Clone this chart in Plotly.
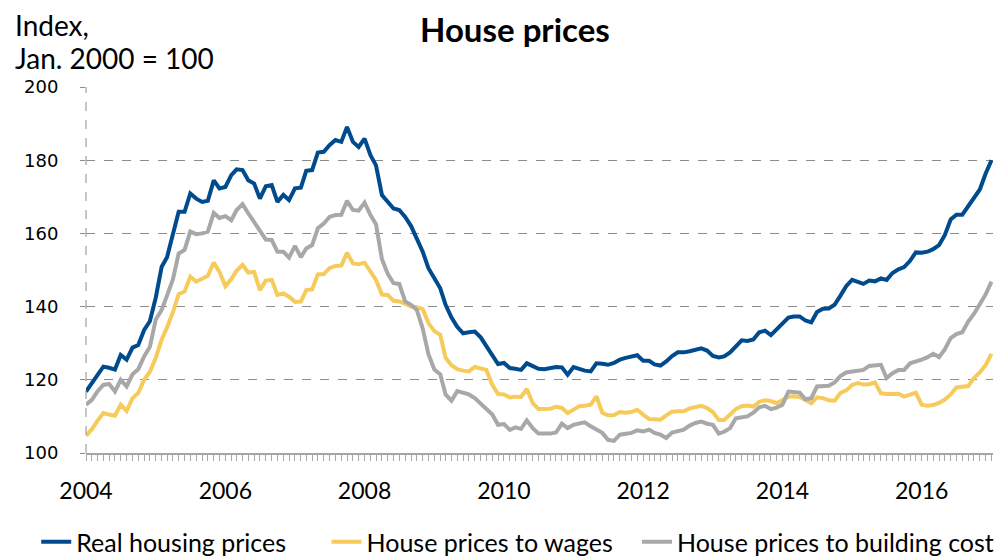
import pandas as pd
import plotly.graph_objects as go

# Monthly index values, Jan 2004 - Jan 2017 (Jan. 2000 = 100)
months = pd.date_range("2004-01-01", periods=157, freq="MS")

real_prices = [
    116.8, 119.0, 121.0, 123.6, 123.3, 122.8, 126.8, 125.5, 128.8, 129.5,
    133.6, 136.0, 142.5, 150.9, 153.5, 159.5, 165.9, 165.9, 170.9, 169.5,
    168.6, 168.9, 174.5, 172.3, 172.7, 175.9, 177.5, 177.3, 174.5, 173.6,
    169.5, 172.9, 173.2, 168.6, 170.5, 169.1, 172.3, 172.5, 177.1, 177.3,
    182.1, 182.3, 184.1, 185.5, 185.0, 189.1, 185.0, 183.6, 185.9, 181.4,
    178.6, 170.5, 168.6, 166.8, 166.4, 164.5, 162.0, 158.5, 155.0, 150.5,
    148.0, 145.0, 140.5, 137.0, 134.5, 132.7, 133.0, 133.2, 131.6, 129.3,
    126.5, 124.3, 124.6, 123.2, 123.0, 122.7, 124.5, 123.8, 123.0, 122.9,
    123.3, 123.5, 123.4, 121.4, 123.5, 122.9, 122.5, 122.3, 124.5, 124.4,
    124.1, 124.6, 125.5, 126.0, 126.3, 126.7, 125.2, 125.2, 124.2, 123.9,
    125.0, 126.5, 127.5, 127.5, 127.8, 128.3, 128.6, 128.0, 126.5, 126.1,
    126.4, 127.5, 129.3, 130.8, 130.6, 131.0, 133.0, 133.4, 132.2, 133.7,
    135.2, 137.0, 137.3, 137.3, 136.2, 135.7, 138.5, 139.4, 139.5, 140.5,
    143.0, 145.6, 147.3, 146.6, 146.2, 147.1, 146.9, 147.7, 147.3, 149.2,
    150.2, 150.8, 152.5, 154.8, 154.7, 155.0, 155.7, 156.8, 159.5, 163.8,
    165.1, 165.1, 167.5, 170.0, 172.0, 176.3, 180.0,
]

to_wages = [
    104.7, 106.5, 108.8, 110.9, 110.5, 110.2, 113.2, 111.5, 115.0, 116.4,
    120.0, 122.2, 126.0, 131.0, 134.3, 138.5, 143.4, 144.1, 148.2, 146.8,
    147.6, 148.4, 152.0, 149.5, 145.6, 147.5, 149.8, 151.4, 149.3, 149.5,
    144.5, 147.1, 147.3, 143.2, 143.6, 142.7, 141.3, 141.4, 144.5, 144.7,
    148.8, 148.9, 150.5, 151.1, 151.2, 154.7, 151.8, 151.6, 152.0, 149.3,
    147.3, 143.3, 143.2, 141.6, 141.4, 140.8, 140.0, 139.8, 139.3, 135.5,
    133.3, 132.3, 126.0, 124.0, 122.9, 122.5, 122.3, 123.5, 123.0, 122.7,
    118.6, 116.1, 116.0, 115.2, 115.4, 115.3, 117.5, 113.6, 112.0, 112.0,
    112.1, 112.6, 112.3, 110.9, 111.8, 112.8, 112.9, 113.2, 115.5, 111.0,
    110.3, 110.4, 111.2, 111.0, 111.2, 111.8, 110.5, 109.3, 109.2, 109.1,
    110.3, 111.3, 111.4, 111.4, 112.2, 112.5, 112.9, 112.3, 111.2, 109.0,
    109.0, 110.5, 112.0, 112.8, 113.0, 112.7, 114.0, 114.4, 114.2, 113.6,
    114.5, 115.4, 115.5, 115.3, 114.5, 113.6, 115.2, 115.0, 114.4, 114.3,
    116.4, 117.1, 118.6, 119.1, 118.7, 118.8, 119.3, 116.3, 116.1, 116.1,
    116.2, 115.4, 115.9, 116.5, 113.2, 112.9, 113.1, 113.7, 114.6, 116.0,
    117.9, 118.1, 118.3, 120.5, 122.0, 124.0, 127.1,
]

to_building_cost = [
    113.2, 114.5, 116.8, 118.6, 118.9, 116.8, 120.0, 118.2, 121.5, 122.9,
    126.4, 129.0, 136.5, 139.1, 143.0, 147.5, 154.5, 155.5, 160.5, 159.8,
    160.0, 160.5, 165.6, 164.2, 164.7, 163.6, 166.4, 168.0, 165.5, 163.2,
    160.5, 158.3, 158.2, 155.0, 155.0, 153.4, 156.6, 153.5, 155.9, 156.8,
    161.4, 162.7, 164.5, 165.0, 165.1, 168.9, 166.4, 166.2, 168.4, 165.0,
    162.5, 153.0, 149.0, 146.4, 146.2, 141.4, 140.5, 139.1, 134.0, 127.0,
    122.8, 121.5, 116.0, 114.3, 116.9, 116.5, 116.0, 115.0, 113.5, 112.3,
    110.5, 107.7, 107.9, 106.3, 107.0, 106.6, 108.9, 106.8, 105.3, 105.3,
    105.3, 105.6, 108.0, 106.8, 107.7, 108.1, 108.4, 107.3, 106.4, 105.5,
    103.6, 103.3, 105.0, 105.2, 105.5, 106.2, 105.9, 106.4, 105.5, 105.0,
    104.1, 105.6, 105.9, 106.4, 107.5, 108.2, 108.6, 108.0, 107.7, 105.3,
    105.8, 106.8, 109.5, 109.7, 110.0, 111.0, 112.5, 112.9, 112.0, 112.4,
    113.2, 116.8, 116.6, 116.5, 114.7, 115.0, 118.2, 118.3, 118.4, 119.3,
    121.0, 122.0, 122.3, 122.4, 122.7, 123.8, 124.0, 124.1, 120.5, 121.8,
    122.7, 122.7, 124.5, 124.9, 125.5, 126.2, 127.1, 126.2, 128.3, 131.4,
    132.5, 133.0, 135.9, 138.0, 140.5, 143.3, 146.8,
]

series = [
    ("Real housing prices", real_prices, "#004B8D", "legend"),
    ("House prices to wages", to_wages, "#F6CB5C", "legend2"),
    ("House prices to building cost", to_building_cost, "#A8A8A8", "legend3"),
]

fig = go.Figure()
for name, values, color, leg in series:
    fig.add_trace(go.Scatter(
        x=months, y=values, name=name, mode="lines", legend=leg,
        line=dict(color=color, width=4),
    ))

# one legend box per series so each entry sits where the reference has it
legend_style = dict(orientation="h", xref="container", yref="container",
                    xanchor="left", y=0.043, yanchor="middle",
                    font=dict(size=25))

# page body adds an 8px offset, so margins are shifted by that much
fig.update_layout(
    width=1008, height=558,
    margin=dict(l=78, r=23, t=79, b=113, autoexpand=False),
    plot_bgcolor="white", paper_bgcolor="white",
    font=dict(family="Lato", color="black"),
    showlegend=True,
    legend=dict(x=0.028, **legend_style),
    legend2=dict(x=0.316, **legend_style),
    legend3=dict(x=0.624, **legend_style),
)

fig.update_xaxes(
    range=["2004-01-01", "2017-01-09"], automargin=False,
    tickformat="%Y", dtick="M24", tick0="2004-01-01",
    ticks="outside", ticklen=6, tickcolor="#A6A6A6",
    minor=dict(dtick="M1", ticks="outside", ticklen=6, tickcolor="#A6A6A6"),
    showline=True, linecolor="#A6A6A6", linewidth=2,
    showgrid=False, tickfont=dict(size=23, family="Lato"),
    ticklabelstandoff=10,
)

fig.update_yaxes(
    range=[100, 200], dtick=20, automargin=False,
    showgrid=True, gridcolor="#8C8C8C", griddash="dash", gridwidth=1,
    ticks="outside", ticklen=5, tickcolor="#8C8C8C",
    showline=False, zeroline=False,
    tickfont=dict(size=18, family="DejaVu Sans"),
    ticklabelstandoff=18,
)

# dashed left axis line
fig.add_shape(type="line", xref="paper", yref="paper", x0=0, x1=0, y0=0, y1=1,
              line=dict(color="#8C8C8C", width=1, dash="dash"))

fig.add_annotation(text="<b>House prices</b>", xref="paper", yref="paper",
                   x=0.473, y=1.158, xanchor="center", yanchor="middle",
                   showarrow=False, font=dict(size=33, family="Lato"))
fig.add_annotation(text="Index,", xref="paper", yref="paper",
                   x=-0.0805, y=1.169, xanchor="left", yanchor="middle",
                   showarrow=False, font=dict(size=28, family="Lato"))
fig.add_annotation(text="Jan. 2000 = 100", xref="paper", yref="paper",
                   x=-0.0805, y=1.079, xanchor="left", yanchor="middle",
                   showarrow=False, font=dict(size=28, family="Lato"))

fig.write_html("out.html")
